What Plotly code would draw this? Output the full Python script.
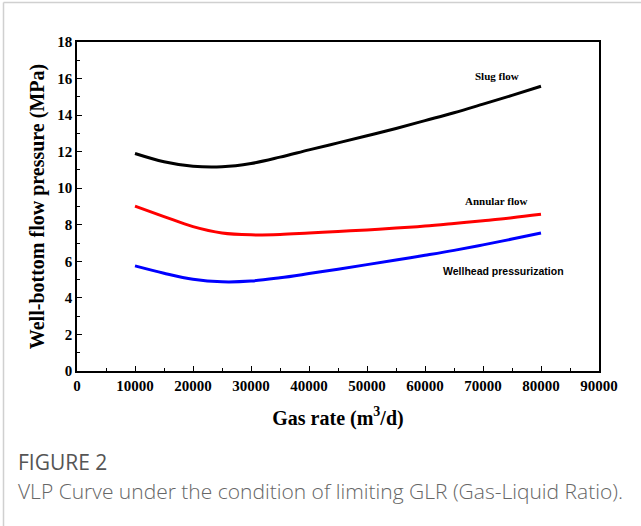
import plotly.graph_objects as go

gas_rate = [10000, 15000, 20000, 25000, 30000, 35000, 40000, 45000,
            50000, 55000, 60000, 65000, 70000, 75000, 80000]
slug_flow = [11.9, 11.45, 11.2, 11.17, 11.35, 11.7, 12.1, 12.48,
             12.87, 13.27, 13.7, 14.13, 14.6, 15.08, 15.58]
annular_flow = [9.02, 8.45, 7.9, 7.55, 7.45, 7.47, 7.55, 7.63,
                7.72, 7.82, 7.93, 8.07, 8.22, 8.38, 8.57]
wellhead = [5.75, 5.35, 5.02, 4.88, 4.92, 5.1, 5.33, 5.57,
            5.82, 6.07, 6.33, 6.6, 6.9, 7.22, 7.55]

series_names = ["Slug flow", "Annular flow", "Wellhead pressurization"]
series_colors = ["#000000", "#ff0000", "#0000ff"]
x_ticks = [0, 10000, 20000, 30000, 40000, 50000, 60000, 70000, 80000, 90000]
y_ticks = [0, 2, 4, 6, 8, 10, 12, 14, 16, 18]

L, R, T, B = 77, 599, 42, 371
W, H = 641, 526
pw, ph = R - L, B - T

def px(x):
    return (x - L) / pw

def py(y):
    return (B - y) / ph

fig = go.Figure()
for ys, name, col in zip([slug_flow, annular_flow, wellhead], series_names, series_colors):
    fig.add_trace(go.Scatter(x=gas_rate, y=ys, mode="lines", name=name,
                             line=dict(color=col, width=3, shape="spline")))

serif = "Liberation Serif, Times New Roman, serif"
axis_common = dict(showline=True, linecolor="black", linewidth=1.5, mirror=True,
                   ticks="inside", ticklen=5, tickwidth=1.3, tickcolor="black",
                   showgrid=False, zeroline=False,
                   tickfont=dict(family=serif, size=15, color="black", weight="bold"))

fig.update_xaxes(range=[0, 90000], tickvals=x_ticks, ticktext=[str(v) for v in x_ticks],
                 minor=dict(ticks="inside", ticklen=3, tickwidth=1, tickcolor="black", dtick=5000),
                 title=dict(text="<b>Gas rate (m<sup>3</sup>/d)</b>", font=dict(family=serif, size=20, color="black"), standoff=18),
                 **axis_common)
fig.update_yaxes(range=[0, 18], tickvals=y_ticks,
                 minor=dict(ticks="inside", ticklen=3, tickwidth=1, tickcolor="black", dtick=1),
                 title=dict(text="<b>Well-bottom flow pressure (MPa)</b>", font=dict(family=serif, size=20, color="black"), standoff=7),
                 **axis_common)

anns = [
    dict(x=72400, y=16.14, text="<b>Slug flow</b>", font=dict(family=serif, size=11, color="black")),
    dict(x=72400, y=9.3, text="<b>Annular flow</b>", font=dict(family=serif, size=11, color="black")),
    dict(x=73450, y=5.47, text="<b>Wellhead pressurization</b>", font=dict(family="Liberation Sans, Arial, sans-serif", size=10.5, color="black")),
]
for a in anns:
    fig.add_annotation(xref="x", yref="y", showarrow=False, xanchor="center", yanchor="middle", **a)

fig.add_annotation(xref="paper", yref="paper", x=px(16), y=py(462), xanchor="left", yanchor="middle",
                   showarrow=False, text="FIGURE 2",
                   font=dict(family="Open Sans, sans-serif", size=21, color="#555555"))
fig.add_annotation(xref="paper", yref="paper", x=px(16), y=py(491), xanchor="left", yanchor="middle",
                   showarrow=False, text="VLP Curve under the condition of limiting GLR (Gas-Liquid Ratio).",
                   font=dict(family="Open Sans, sans-serif", size=21, color="#666666", weight=300))

# card border (left and top)
fig.add_shape(type="line", xref="paper", yref="paper", x0=px(3.5), x1=px(3.5), y0=py(H), y1=py(2.5),
              line=dict(color="#d0d0d0", width=1.5))
fig.add_shape(type="line", xref="paper", yref="paper", x0=px(3.5), x1=px(W), y0=py(2.5), y1=py(2.5),
              line=dict(color="#d0d0d0", width=1.5))

fig.update_layout(width=W, height=H, margin=dict(l=L, r=W - R, t=T, b=H - B),
                  paper_bgcolor="white", plot_bgcolor="white", showlegend=False)

fig.write_html("out.html")
